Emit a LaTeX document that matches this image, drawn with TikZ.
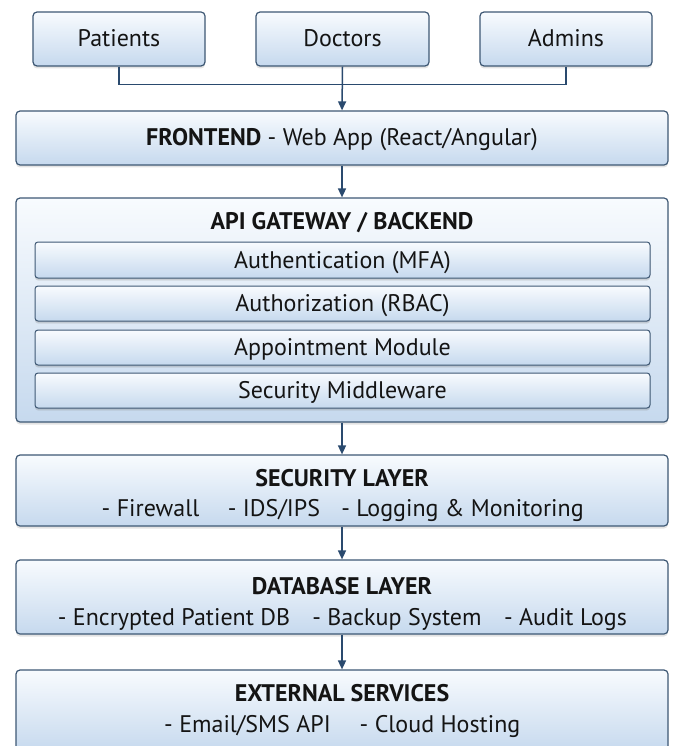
\documentclass[tikz,border=0pt]{standalone}
\usepackage{fontspec}
\setmainfont{PT Sans}
\usetikzlibrary{shadows,arrows.meta}
\definecolor{edgec}{HTML}{3E5874}
\definecolor{arrc}{HTML}{2A4A6E}
\definecolor{boxtop}{HTML}{F8FBFE}
\definecolor{boxbot}{HTML}{C6D9EE}
\definecolor{txt}{HTML}{141414}
\tikzset{
  box/.style={draw=edgec, line width=1.2pt, rounded corners=4pt,
    top color=boxtop, bottom color=boxbot,
    drop shadow={opacity=0.22, shadow xshift=0pt, shadow yshift=-2.5pt},
    inner sep=0pt, text=txt, font=\fontsize{24}{28}\selectfont,
    text height=19pt, text depth=3pt},
  inner/.style={box, line width=1pt, rounded corners=3pt,
    drop shadow={opacity=0.15, shadow xshift=0pt, shadow yshift=-1.5pt}},
  lbl/.style={inner sep=0pt, anchor=base, text=txt, font=\fontsize{24}{28}\selectfont},
  ttl/.style={lbl, font=\fontsize{24}{28}\selectfont\bfseries},
  conn/.style={draw=arrc, line width=1.5pt},
  arr/.style={conn, -{Triangle[length=9pt,width=8pt]}}
}
\begin{document}
\begin{tikzpicture}[x=1pt,y=-1pt]
\useasboundingbox (0,0) rectangle (673,746);
% top row
\node[box, minimum width=172pt, minimum height=54pt] (pat) at (119,39) {Patients};
\node[box, minimum width=173pt, minimum height=54pt] (doc) at (342.5,39) {Doctors};
\node[box, minimum width=172pt, minimum height=54pt] (adm) at (566,39) {Admins};
% frontend
\node[box, minimum width=652pt, minimum height=54pt] (front) at (342,138) {\textbf{FRONTEND} - Web App (React/Angular)};
% api
\node[box, minimum width=652pt, minimum height=224pt] (api) at (342,310) {};
\node[ttl] (apit) at (342,229) {API GATEWAY / BACKEND};
\node[inner, minimum width=615pt, minimum height=36pt] (auth) at (342.5,260) {Authentication (MFA)};
\node[inner, minimum width=615pt, minimum height=35pt] (authz) at (342.5,303.5) {Authorization (RBAC)};
\node[inner, minimum width=615pt, minimum height=35pt] (appt) at (342.5,347.5) {Appointment Module};
\node[inner, minimum width=615pt, minimum height=35pt] (secm) at (342.5,390.5) {Security Middleware};
% security
\node[box, minimum width=652pt, minimum height=71pt] (sec) at (342,490.5) {};
\node[ttl] (sect) at (342,486) {SECURITY LAYER};
\node[lbl] (s1) at (150.5,516) {- Firewall};
\node[lbl] (s2) at (274,516) {- IDS/IPS};
\node[lbl] (s3) at (462.5,516) {- Logging \& Monitoring};
% database
\node[box, minimum width=652pt, minimum height=74pt] (db) at (342,597) {};
\node[ttl] (dbt) at (342,594) {DATABASE LAYER};
\node[lbl] (d1) at (174,625) {- Encrypted Patient DB};
\node[lbl] (d2) at (397,625) {- Backup System};
\node[lbl] (d3) at (565.5,625) {- Audit Logs};
% external
\node[box, minimum width=652pt, minimum height=82pt] (ext) at (342,711) {};
\node[ttl] (extt) at (342,701) {EXTERNAL SERVICES};
\node[lbl] (e1) at (247.5,732) {- Email/SMS API};
\node[lbl] (e2) at (440,732) {- Cloud Hosting};
% connectors
\draw[conn] (pat.south) -- ++(0,18) -| (adm.south);
\draw[arr] (doc.south) -- (front.north);
\draw[arr] (front.south) -- (api.north);
\draw[arr] (api.south) -- (sec.north);
\draw[arr] (sec.south) -- (db.north);
\draw[arr] (db.south) -- (ext.north);
\end{tikzpicture}
\end{document}
